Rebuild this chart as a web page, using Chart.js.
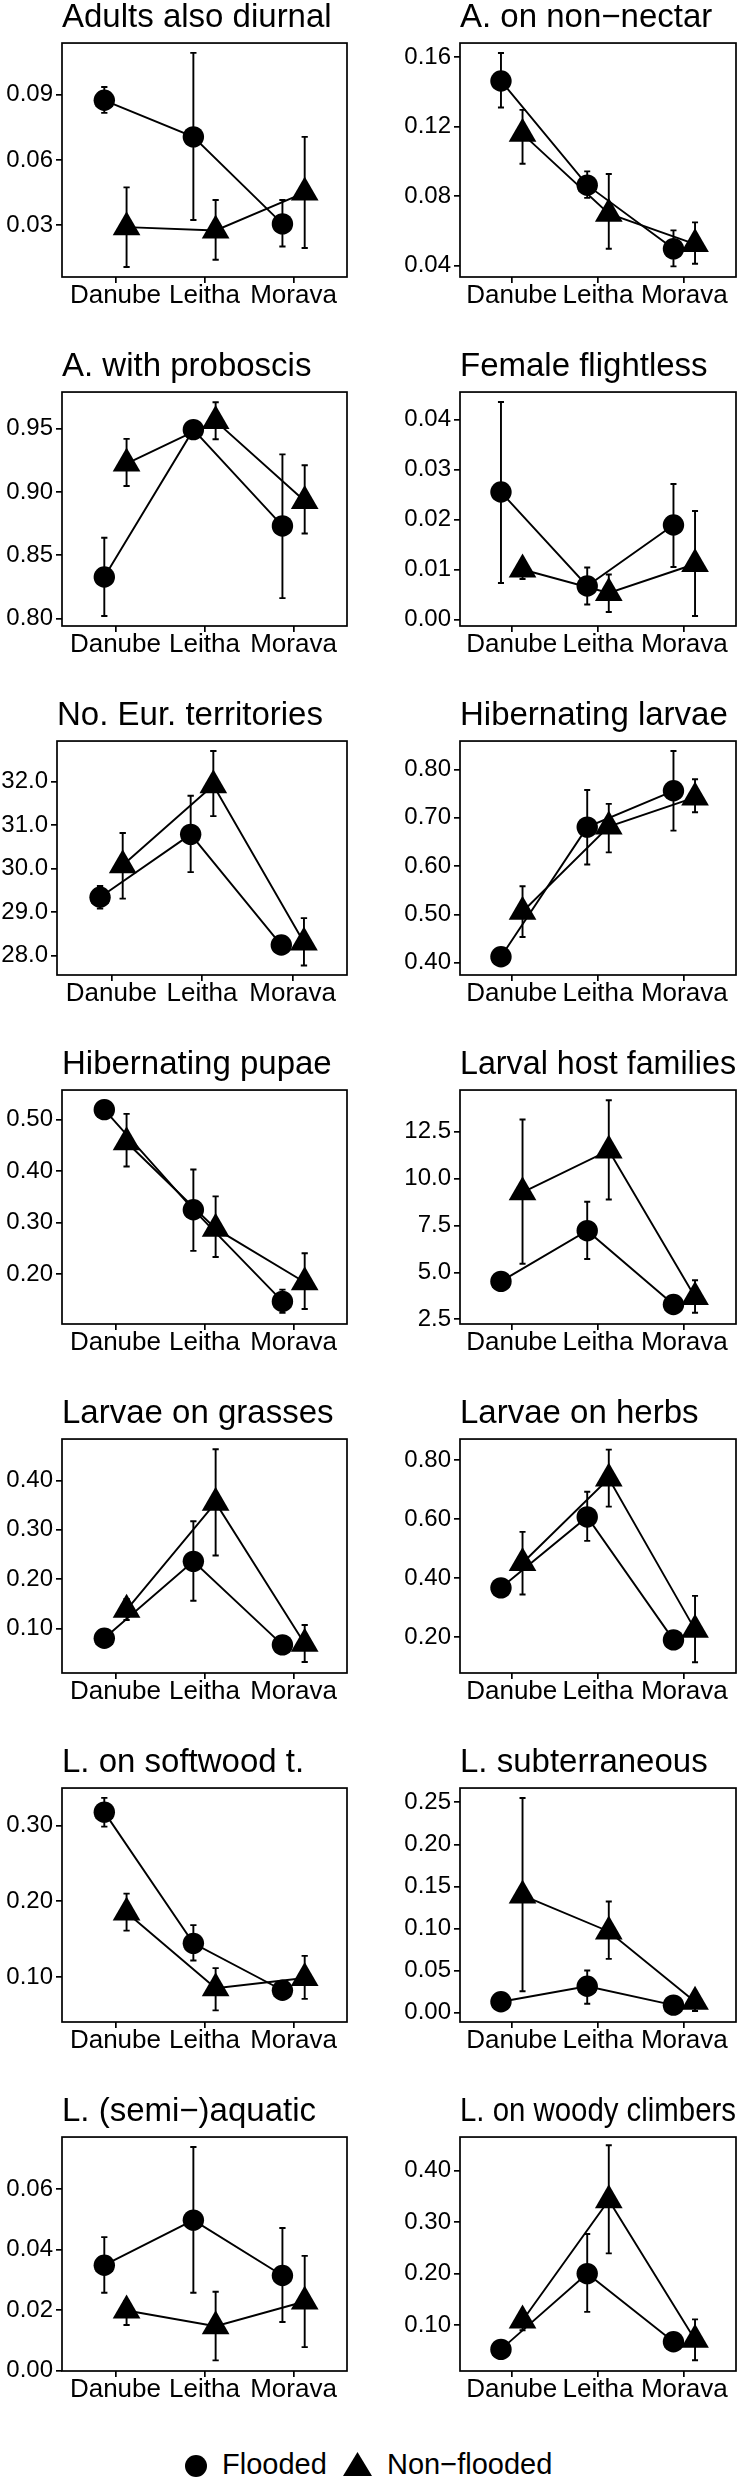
<!DOCTYPE html>
<html><head><meta charset="utf-8">
<script src="https://cdn.jsdelivr.net/npm/chart.js@4.4.1/dist/chart.umd.min.js"></script>
<style>
body{margin:0;background:#fff;}
#wrap{position:relative;width:752px;height:2482px;background:#fff;}
#wrap canvas{position:absolute;}
.lg{position:absolute;font-family:"Liberation Sans",Arial,Helvetica,sans-serif;font-size:29px;line-height:29px;color:#000;white-space:nowrap;}
</style></head><body>
<div id="wrap"></div>
<script>
const categories = ["Danube", "Leitha", "Morava"];
const seriesNames = ["Flooded", "Non\u2212flooded"];
const titles = ["Adults also diurnal", "A. on non\u2212nectar", "A. with proboscis", "Female flightless",
  "No. Eur. territories", "Hibernating larvae", "Hibernating pupae", "Larval host families",
  "Larvae on grasses", "Larvae on herbs", "L. on softwood t.", "L. subterraneous",
  "L. (semi\u2212)aquatic", "L. on woody climbers"];
const yMin = [0.0062, 0.0335, 0.7942, -0.0013, 27.55, 0.3746, 0.1034, 2.25, 0.0102, 0.0777, 0.0407, -0.011, -0.0002, 0.0108];
const yMax = [0.1137, 0.168, 0.9789, 0.0455, 32.94, 0.859, 0.5573, 14.71, 0.4837, 0.8707, 0.3492, 0.2669, 0.0772, 0.4653];
const yTicks = [
  ["0.03", "0.06", "0.09"], ["0.04", "0.08", "0.12", "0.16"],
  ["0.80", "0.85", "0.90", "0.95"], ["0.00", "0.01", "0.02", "0.03", "0.04"],
  ["28.0", "29.0", "30.0", "31.0", "32.0"], ["0.40", "0.50", "0.60", "0.70", "0.80"],
  ["0.20", "0.30", "0.40", "0.50"], ["2.5", "5.0", "7.5", "10.0", "12.5"],
  ["0.10", "0.20", "0.30", "0.40"], ["0.20", "0.40", "0.60", "0.80"],
  ["0.10", "0.20", "0.30"], ["0.00", "0.05", "0.10", "0.15", "0.20", "0.25"],
  ["0.00", "0.02", "0.04", "0.06"], ["0.10", "0.20", "0.30", "0.40"]];

const floodedMean = [[0.0874, 0.0706, 0.0306], [0.1462, 0.0863, 0.0497], [0.8329, 0.9492, 0.8732], [0.0255, 0.0067, 0.0189],
  [29.34, 30.79, 28.24], [0.4124, 0.6808, 0.7560], [0.5193, 0.3251, 0.1472], [4.52, 7.22, 3.29],
  [0.0806, 0.2362, 0.0672], [0.3663, 0.6067, 0.1899], [0.3174, 0.1444, 0.0826], [0.0130, 0.0314, 0.0090],
  [0.0348, 0.0497, 0.0314], [0.0528, 0.2000, 0.0677]];
const floodedLow = [[0.0816, 0.0324, 0.0202], [0.1309, 0.0790, 0.0396], [0.8021, 0.9430, 0.8162], [0.0073, 0.0030, 0.0105],
  [29.08, 29.92, 28.14], [0.3966, 0.6034, 0.6735], [0.5020, 0.2453, 0.1250], [4.30, 5.71, 3.10],
  [0.0700, 0.1563, 0.0580], [0.3450, 0.5256, 0.1750], [0.2983, 0.1218, 0.0750], [0.0050, 0.0106, 0.0030],
  [0.0257, 0.0257, 0.0160], [0.0450, 0.1257, 0.0600]];
const floodedHigh = [[0.0935, 0.1092, 0.0416], [0.1623, 0.0942, 0.0603], [0.8639, 0.9550, 0.9297], [0.0435, 0.0104, 0.0271],
  [29.60, 31.68, 28.34], [0.4280, 0.7577, 0.8385], [0.5367, 0.4030, 0.1700], [4.75, 8.76, 3.50],
  [0.0900, 0.3174, 0.0770], [0.3850, 0.6920, 0.2050], [0.3362, 0.1684, 0.0900], [0.0210, 0.0502, 0.0150],
  [0.0441, 0.0739, 0.0471], [0.0600, 0.2769, 0.0750]];
const nonFloodedMean = [[0.0291, 0.0276, 0.0450], [0.1158, 0.0699, 0.0524], [0.9224, 0.9560, 0.8929], [0.0100, 0.0053, 0.0111],
  [30.08, 31.92, 28.30], [0.5055, 0.6820, 0.7423], [0.4560, 0.2884, 0.1845], [9.26, 11.49, 3.69],
  [0.1380, 0.3549, 0.0692], [0.4505, 0.7368, 0.2247], [0.1852, 0.0852, 0.0987], [0.1394, 0.0965, 0.0130],
  [0.0198, 0.0146, 0.0228], [0.1090, 0.3427, 0.0716]];
const nonFloodedLow = [[0.0108, 0.0141, 0.0195], [0.0986, 0.0497, 0.0411], [0.9047, 0.9416, 0.8672], [0.0081, 0.0015, 0.0007],
  [29.31, 31.21, 27.77], [0.4533, 0.6285, 0.7117], [0.4090, 0.2335, 0.1325], [5.46, 8.88, 2.85],
  [0.1174, 0.2480, 0.0325], [0.3440, 0.6415, 0.1140], [0.1612, 0.0560, 0.0712], [0.0255, 0.0640, 0.0020],
  [0.0150, 0.0033, 0.0077], [0.0900, 0.2393, 0.0316]];
const nonFloodedHigh = [[0.0474, 0.0416, 0.0706], [0.1296, 0.0927, 0.0649], [0.9419, 0.9708, 0.9211], [0.0118, 0.0090, 0.0217],
  [30.82, 32.71, 28.86], [0.5584, 0.7289, 0.7800], [0.5110, 0.3510, 0.2406], [13.14, 14.17, 4.58],
  [0.1600, 0.4630, 0.1074], [0.5560, 0.8348, 0.3391], [0.2100, 0.1118, 0.1279], [0.2551, 0.1322, 0.0200],
  [0.0230, 0.0260, 0.0379], [0.1250, 0.4493, 0.1110]];

const FONT = '"Liberation Sans", Arial, Helvetica, sans-serif';
const ROW_H = 349, COL_W = 376, DODGE = 0.125, CAP = 0.035, LW = 1.9;
Chart.defaults.font.family = FONT;
Chart.defaults.color = '#000';

const errorBars = {
  id: 'errorBars',
  beforeDatasetsDraw(chart) {
    const ctx = chart.ctx, x = chart.scales.x, y = chart.scales.y;
    ctx.save();
    ctx.strokeStyle = '#000'; ctx.lineWidth = LW; ctx.lineCap = 'butt';
    chart.data.datasets.forEach(ds => ds.data.forEach(p => {
      const px = x.getPixelForValue(p.x), lo = y.getPixelForValue(p.lo), hi = y.getPixelForValue(p.hi);
      const c0 = x.getPixelForValue(p.x - CAP), c1 = x.getPixelForValue(p.x + CAP);
      ctx.beginPath();
      ctx.moveTo(px, lo); ctx.lineTo(px, hi);
      ctx.moveTo(c0, lo); ctx.lineTo(c1, lo);
      ctx.moveTo(c0, hi); ctx.lineTo(c1, hi);
      ctx.stroke();
    }));
    ctx.restore();
  }
};
const frame = {
  id: 'frame',
  afterDraw(chart) {
    const a = chart.chartArea, ctx = chart.ctx;
    ctx.save(); ctx.strokeStyle = '#000'; ctx.lineWidth = 1.7;
    ctx.strokeRect(a.left, a.top, a.right - a.left, a.bottom - a.top);
    ctx.restore();
  }
};

const wrap = document.getElementById('wrap');
titles.forEach((t, i) => {
  const col = i % 2, row = Math.floor(i / 2);
  const cv = document.createElement('canvas');
  cv.width = COL_W; cv.height = ROW_H;
  cv.style.left = (col * COL_W) + 'px'; cv.style.top = (row * ROW_H) + 'px';
  wrap.appendChild(cv);
  const axisW = col === 0 ? (i === 4 ? 57 : 62) : 84;
  const padRight = col === 0 ? 29 : 8;
  const mk = (mean, lo, hi, off) => categories.map((c, k) => ({x: k + 1 + off, y: mean[i][k], lo: lo[i][k], hi: hi[i][k]}));
  new Chart(cv, {
    type: 'scatter',
    data: {datasets: [
      {label: seriesNames[0], data: mk(floodedMean, floodedLow, floodedHigh, -DODGE), showLine: true,
       borderColor: '#000', borderWidth: LW, pointStyle: 'circle', pointRadius: 10.7,
       pointBackgroundColor: '#000', pointBorderColor: '#000', pointBorderWidth: 0},
      {label: seriesNames[1], data: mk(nonFloodedMean, nonFloodedLow, nonFloodedHigh, DODGE), showLine: true,
       borderColor: '#000', borderWidth: LW, pointStyle: 'triangle', pointRadius: 16,
       pointBackgroundColor: '#000', pointBorderColor: '#000', pointBorderWidth: 0}
    ]},
    options: {
      responsive: false, animation: false, events: [],
      layout: {padding: {left: 0, right: padRight, top: 0, bottom: 0}},
      plugins: {
        legend: {display: false}, tooltip: {enabled: false},
        title: {display: true, text: t, align: 'start', fullSize: false, color: '#000',
          font: {family: FONT, size: 33, weight: 'normal', lineHeight: 1.08}, padding: {top: 0, bottom: 7.4}}
      },
      scales: {
        x: {type: 'linear', min: 0.4, max: 3.6,
          afterBuildTicks: s => { s.ticks = categories.map((c, k) => ({value: k + 1})); },
          afterFit: s => { s.height = 72; },
          ticks: {callback: (v) => categories[Math.round(v) - 1], font: {size: 26, lineHeight: 1}, color: '#000',
            padding: 0, maxRotation: 0, autoSkip: false},
          grid: {drawOnChartArea: false, drawTicks: true, tickLength: 6, color: '#000', lineWidth: 1.7},
          border: {display: false}},
        y: {min: yMin[i], max: yMax[i],
          afterBuildTicks: s => { s.ticks = yTicks[i].map(v => ({value: Number(v)})); },
          afterFit: s => { s.width = axisW; },
          ticks: {callback: (v, idx) => yTicks[i][idx], font: {size: 24, lineHeight: 1}, color: '#000', padding: 3, autoSkip: false},
          grid: {drawOnChartArea: false, drawTicks: true, tickLength: 6, color: '#000', lineWidth: 1.7},
          border: {display: false}}
      }
    },
    plugins: [errorBars, frame]
  });
});

// legend
const NS = 'http://www.w3.org/2000/svg';
function addSvg(left, top, w, h, shape) {
  const s = document.createElementNS(NS, 'svg');
  s.setAttribute('width', w); s.setAttribute('height', h);
  s.style.position = 'absolute'; s.style.left = left + 'px'; s.style.top = top + 'px';
  s.appendChild(shape); wrap.appendChild(s);
}
const circ = document.createElementNS(NS, 'circle');
circ.setAttribute('cx', 11); circ.setAttribute('cy', 11); circ.setAttribute('r', 11); circ.setAttribute('fill', '#000');
addSvg(185, 2455, 22, 22, circ);
const tri = document.createElementNS(NS, 'polygon');
tri.setAttribute('points', '14.5,0 29,24 0,24'); tri.setAttribute('fill', '#000');
addSvg(343, 2452, 29, 24, tri);
[[222, seriesNames[0]], [387, seriesNames[1]]].forEach(([l, txt]) => {
  const sp = document.createElement('div');
  sp.className = 'lg'; sp.style.left = l + 'px'; sp.style.top = '2450px';
  sp.textContent = txt; wrap.appendChild(sp);
});
</script>
</body></html>
